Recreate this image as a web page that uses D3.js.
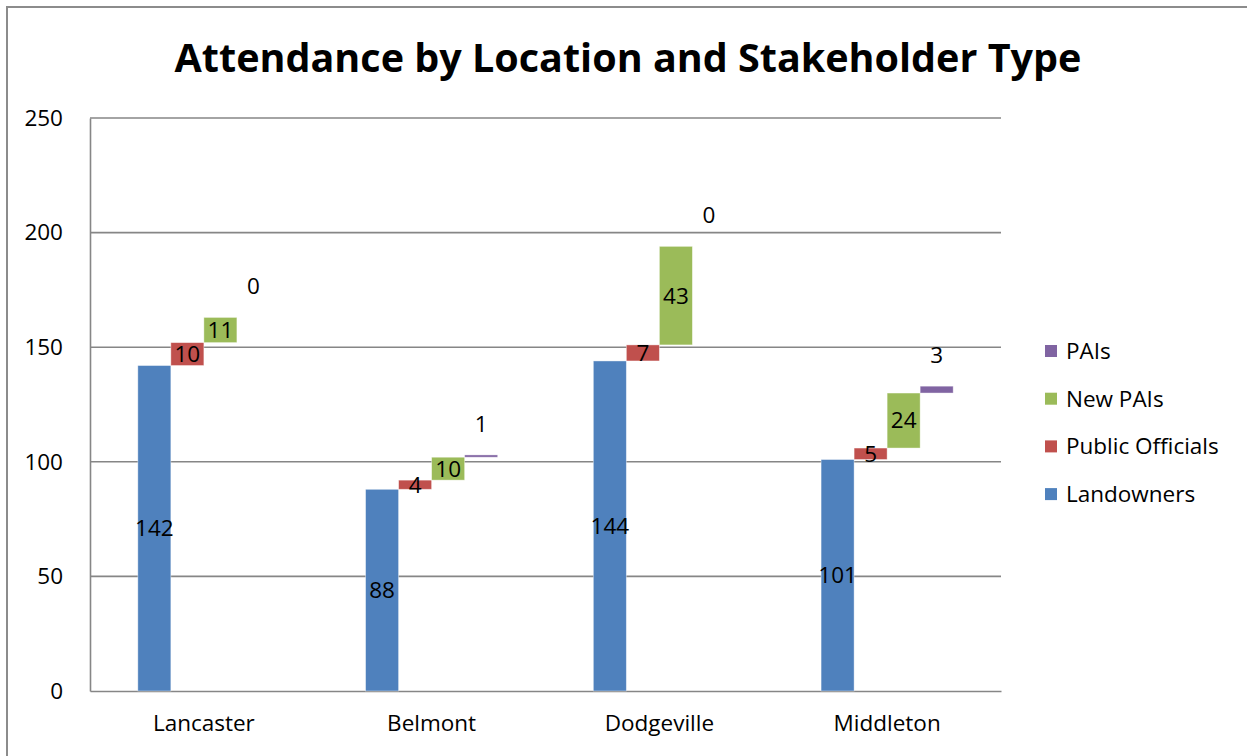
<!DOCTYPE html>
<html>
<head>
<meta charset="utf-8">
<script src="https://cdn.jsdelivr.net/npm/d3@7"></script>
<style>
  body { margin: 0; background: #fff; }
  text { font-family: "Open Sans", "Noto Sans", sans-serif; fill: #000; }
</style>
</head>
<body>
<div id="chart"></div>
<script>
const locations = ["Lancaster", "Belmont", "Dodgeville", "Middleton"];
const seriesNames = ["Landowners", "Public Officials", "New PAIs", "PAIs"];
const landowners = [142, 88, 144, 101];
const publicOfficials = [10, 4, 7, 5];
const newPAIs = [11, 10, 43, 24];
const pais = [0, 1, 0, 3];
const yTicks = [0, 50, 100, 150, 200, 250];
const colors = ["#4F81BD", "#C0504D", "#9BBB59", "#8064A2"];

const rows = locations.map((loc, i) => ({
    location: loc,
    "Landowners": landowners[i],
    "Public Officials": publicOfficials[i],
    "New PAIs": newPAIs[i],
    "PAIs": pais[i]
}));

const width = 1247, height = 756;
const plot = {left: 90, right: 1001, top: 118, bottom: 691};
const fs = "22.5px";

const svg = d3.select("#chart")
    .append("svg")
    .attr("width", width)
    .attr("height", height);

// outer chart border (only left and top edges are visible in the frame)
svg.append("path")
    .attr("d", `M7,${height} L7,7 L${width},7`)
    .attr("fill", "none")
    .attr("stroke", "#8c8c8c")
    .attr("stroke-width", 2);

const title = svg.append("text")
    .attr("x", 628)
    .attr("y", 72)
    .attr("text-anchor", "middle")
    .style("font-weight", "bold")
    .style("font-size", "40px")
    .text("Attendance by Location and Stakeholder Type");
// squeeze to the width of the original title
const tw = title.node().getComputedTextLength();
title.style("font-size", (40 * 907 / tw) + "px");

const x = d3.scaleBand()
    .domain(locations)
    .range([plot.left, plot.right]);

const y = d3.scaleLinear()
    .domain([0, 250])
    .range([plot.bottom, plot.top]);

const sub = d3.scaleBand()
    .domain(seriesNames)
    .range([x.bandwidth() * 0.21, x.bandwidth() * 0.79]);

// gridlines
svg.append("g")
    .selectAll("line")
    .data(yTicks.slice(1))
    .enter()
    .append("line")
    .attr("x1", plot.left)
    .attr("x2", plot.right)
    .attr("y1", d => y(d))
    .attr("y2", d => y(d))
    .attr("stroke", "#868686")
    .attr("stroke-width", 1.6);

// y axis
const yAxis = svg.append("g")
    .attr("transform", `translate(${plot.left},0)`)
    .call(d3.axisLeft(y).tickValues(yTicks).tickSize(0).tickPadding(26));
yAxis.select(".domain").attr("stroke", "#868686").attr("stroke-width", 1.6);
yAxis.selectAll("text").style("font-size", fs).attr("text-anchor", "end")
    .attr("dx", 0).attr("x", -27);

// x axis
const xAxis = svg.append("g")
    .attr("transform", `translate(0,${plot.bottom})`)
    .call(d3.axisBottom(x).tickSize(0).tickPadding(24));
xAxis.select(".domain").attr("stroke", "#868686").attr("stroke-width", 1.6);
xAxis.selectAll("text").style("font-size", fs);

const stacked = d3.stack().keys(seriesNames)(rows);

const groups = svg.selectAll(".series")
    .data(stacked)
    .enter()
    .append("g")
    .attr("class", "series")
    .attr("fill", (d, i) => colors[i]);

groups.selectAll("rect")
    .data(d => d.map(p => ({key: d.key, p: p})))
    .enter()
    .append("rect")
    .attr("x", d => x(d.p.data.location) + sub(d.key))
    .attr("width", sub.bandwidth())
    .attr("y", d => y(d.p[1]))
    .attr("height", d => y(d.p[0]) - y(d.p[1]))
    .attr("stroke", "#ffffff")
    .attr("stroke-opacity", 0.5)
    .attr("stroke-width", 0.8);

// data labels: centred in the segment, PAIs above the segment
groups.selectAll("text")
    .data(d => d.map(p => ({key: d.key, p: p})))
    .enter()
    .append("text")
    .attr("x", d => x(d.p.data.location) + sub(d.key) + sub.bandwidth() / 2)
    .attr("y", d => d.key === "PAIs"
        ? y(d.p[1]) - 31
        : (y(d.p[0]) + y(d.p[1])) / 2)
    .attr("dy", "0.35em")
    .attr("text-anchor", "middle")
    .style("font-size", fs)
    .text(d => d.p.data[d.key]);

// legend (reverse order)
const legend = svg.append("g")
    .selectAll("g")
    .data(seriesNames.slice().reverse())
    .enter()
    .append("g")
    .attr("transform", (d, i) => `translate(1045,${351 + i * 47.7})`);

legend.append("rect")
    .attr("y", -6)
    .attr("width", 12)
    .attr("height", 12)
    .attr("fill", d => colors[seriesNames.indexOf(d)]);

legend.append("text")
    .attr("x", 21)
    .attr("dy", "0.35em")
    .style("font-size", fs)
    .text(d => d);
</script>
</body>
</html>
